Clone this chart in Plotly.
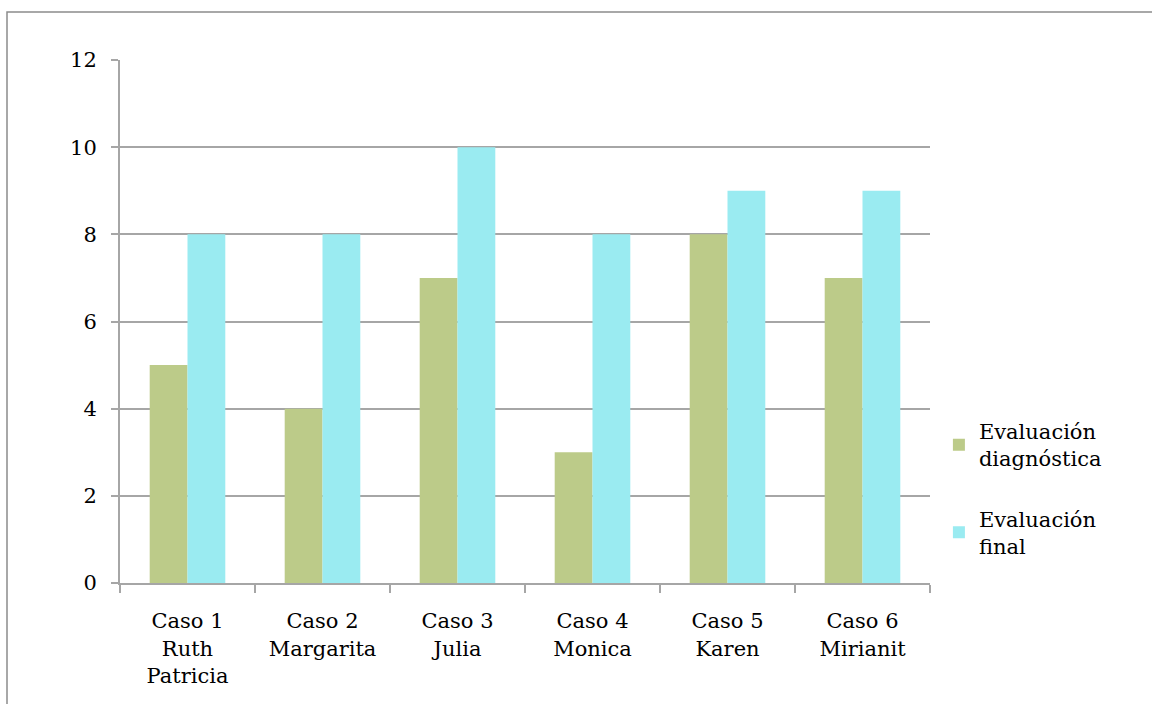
import plotly.graph_objects as go

categories = ["Caso 1<br>Ruth<br>Patricia", "Caso 2<br>Margarita", "Caso 3<br>Julia",
              "Caso 4<br>Monica", "Caso 5<br>Karen", "Caso 6<br>Mirianit"]
diagnostica = [5, 4, 7, 3, 8, 7]
final = [8, 8, 10, 8, 9, 9]
series_names = ["Evaluación<br>diagnóstica", "Evaluación<br>final"]
y_ticks = [0, 2, 4, 6, 8, 10, 12]

FONT = "DejaVu Serif"

fig = go.Figure()
fig.add_trace(go.Bar(x=categories, y=diagnostica, name=series_names[0],
                     marker=dict(color="#bccb89", line=dict(width=0)), legendgroup="a"))
fig.add_trace(go.Bar(x=categories, y=final, name=series_names[1],
                     marker=dict(color="#9aebf1", line=dict(width=0)), legendgroup="b"))

fig.update_layout(
    width=1152, height=704,
    margin=dict(l=120, r=222, t=60, b=121),
    paper_bgcolor="white", plot_bgcolor="white",
    font=dict(family=FONT, size=21, color="#000000"),
    barmode="group", bargap=0.44, bargroupgap=0,
    showlegend=True,
    legend=dict(x=1.011, y=0.18, xanchor="left", yanchor="middle",
                tracegroupgap=30, font=dict(size=21), itemwidth=30,
                bgcolor="rgba(0,0,0,0)"),
    xaxis=dict(showline=True, linecolor="#a6a6a6", linewidth=2,
               ticks="outside", tickson="boundaries", ticklen=8, tickcolor="#a6a6a6",
               tickwidth=2, showgrid=False, tickfont=dict(size=21), tickangle=0,
               ticklabelstandoff=18),
    yaxis=dict(range=[0, 12], tickvals=y_ticks, showline=True, linecolor="#a6a6a6",
               linewidth=2, ticks="outside", ticklen=7, tickcolor="#a6a6a6", tickwidth=2,
               showgrid=True, gridcolor="#a6a6a6", gridwidth=2, zeroline=False,
               ticklabelstandoff=10, tickfont=dict(size=21)),
    shapes=[dict(type="rect", xref="paper", yref="paper",
                 x0=(7 - 120) / 810, x1=1.5, y0=-0.5, y1=(583 - 12) / 523,
                 line=dict(color="#8c8c8c", width=1.5), fillcolor="rgba(0,0,0,0)", layer="below")],
)

fig.write_html("out.html")
